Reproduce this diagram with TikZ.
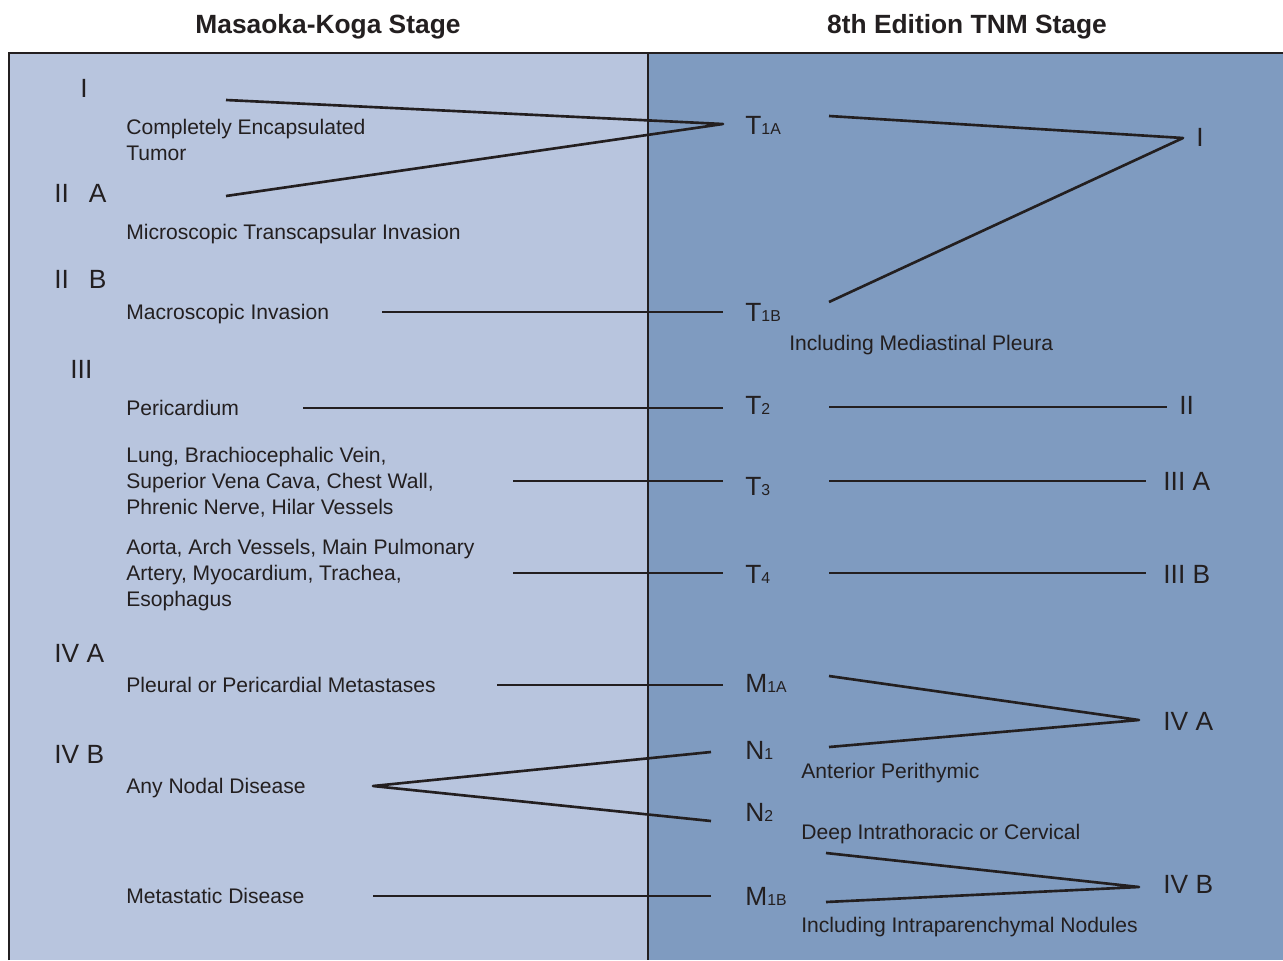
\documentclass[tikz,border=0pt]{standalone}
\usepackage{fontspec}
\setmainfont{Liberation Sans}
\usetikzlibrary{positioning}
\definecolor{PanelLight}{RGB}{184,197,222}
\definecolor{PanelDark}{RGB}{127,155,192}
\definecolor{InkDark}{RGB}{35,31,32}
\newcommand{\stagesub}[1]{\raisebox{-0.4pt}{\fontsize{9}{9}\selectfont #1}}

\begin{document}
\begin{tikzpicture}[x=0.02cm,y=-0.02cm,
        title/.style={font=\fontsize{15}{18}\selectfont\bfseries,text=InkDark,
                      inner sep=0pt,anchor=base},
        stage/.style={font=\fontsize{15}{18}\selectfont,text=InkDark,
                      inner sep=0pt,anchor=base west},
        desc/.style={font=\fontsize{12}{14.74}\selectfont,text=InkDark,
                     inner sep=0pt,anchor=base west,align=left},
        link/.style={draw=InkDark,line width=1.5pt,line join=round},
        frame/.style={draw=InkDark,line width=1pt}
      ]
        \useasboundingbox (0,0) rectangle (1283,960);
        % panels
        \fill[PanelLight] (9,53) rectangle (648,960);
        \fill[PanelDark] (648,53) rectangle (1283,960);
        \draw[frame] (9,960) -- (9,53) -- (1283,53);
        \draw[frame] (648,53) -- (648,960);
        \node[title] (mk-title) at (328,33) {Masaoka-Koga Stage};
        \node[title] (tnm-title) at (967,33) {8th Edition TNM Stage};
        % Masaoka-Koga side (multi-line texts sit on their last baseline)
        \node[stage] (mk-i) at (80,97) {I};
        \node[stage] (mk-iia) at (54,202) {II\hspace{0.4cm}A};
        \node[stage] (mk-iib) at (54,288) {II\hspace{0.4cm}B};
        \node[stage] (mk-iii) at (70,378) {III};
        \node[stage] (mk-iva) at (54,662) {IV A};
        \node[stage] (mk-ivb) at (54,763) {IV B};
        \node[desc] (d-encaps) at (126,160) {Completely Encapsulated\\Tumor};
        \node[desc] (d-micro) at (126,239) {Microscopic Transcapsular Invasion};
        \node[desc] (d-macro) at (126,319) {Macroscopic Invasion};
        \node[desc] (d-peri) at (126,415) {Pericardium};
        \node[desc] (d-lung) at (126,514)
          {Lung, Brachiocephalic Vein,\\Superior Vena Cava, Chest Wall,\\Phrenic Nerve, Hilar Vessels};
        \node[desc] (d-aorta) at (126,606)
          {Aorta, Arch Vessels, Main Pulmonary\\Artery, Myocardium, Trachea,\\Esophagus};
        \node[desc] (d-pleural) at (126,692) {Pleural or Pericardial Metastases};
        \node[desc] (d-nodal) at (126,793) {Any Nodal Disease};
        \node[desc] (d-meta) at (126,903) {Metastatic Disease};
        % TNM side
        \node[stage] (t1a) at (745,134) {T\stagesub{1A}};
        \node[stage] (t1b) at (745,321) {T\stagesub{1B}};
        \node[stage] (t2) at (745,414) {T\stagesub{2}};
        \node[stage] (t3) at (745,495) {T\stagesub{3}};
        \node[stage] (t4) at (745,583) {T\stagesub{4}};
        \node[stage] (m1a) at (745,692) {M\stagesub{1A}};
        \node[stage] (n1) at (745,759) {N\stagesub{1}};
        \node[stage] (n2) at (745,821) {N\stagesub{2}};
        \node[stage] (m1b) at (745,905) {M\stagesub{1B}};
        \node[desc] (d-pleura) at (789,350) {Including Mediastinal Pleura};
        \node[desc] (d-perithy) at (801,778) {Anterior Perithymic};
        \node[desc] (d-deep) at (801,839) {Deep Intrathoracic or Cervical};
        \node[desc] (d-paren) at (801,932) {Including Intraparenchymal Nodules};
        \node[stage] (tnm-i) at (1196,146) {I};
        \node[stage] (tnm-ii) at (1179,414) {II};
        \node[stage] (tnm-iiia) at (1163,490) {III A};
        \node[stage] (tnm-iiib) at (1163,583) {III B};
        \node[stage] (tnm-iva) at (1163,730) {IV A};
        \node[stage] (tnm-ivb) at (1163,893) {IV B};
        % line ends
        \coordinate (c-i) at (226,100);
        \coordinate (c-iia) at (226,196);
        \coordinate (c-macro) at (382,312);
        \coordinate (c-peri) at (303,408);
        \coordinate (c-lung) at (513,481);
        \coordinate (c-aorta) at (513,573);
        \coordinate (c-pleural) at (497,685);
        \coordinate (c-nodal) at (373,786);
        \coordinate (c-meta) at (373,896);
        \coordinate (t1a-in) at (723,124);
        \coordinate (t1b-in) at (723,312);
        \coordinate (t2-in) at (723,408);
        \coordinate (t3-in) at (723,481);
        \coordinate (t4-in) at (723,573);
        \coordinate (m1a-in) at (723,685);
        \coordinate (n1-in) at (711,752);
        \coordinate (n2-in) at (711,821);
        \coordinate (m1b-in) at (711,896);
        \coordinate (t1a-out) at (829,116);
        \coordinate (t1b-out) at (829,302);
        \coordinate (t2-out) at (829,407);
        \coordinate (t3-out) at (829,481);
        \coordinate (t4-out) at (829,573);
        \coordinate (m1a-out) at (829,676);
        \coordinate (n1-out) at (829,747);
        \coordinate (n2-out) at (826,853);
        \coordinate (m1b-out) at (826,902);
        \coordinate (i-in) at (1183,138);
        \coordinate (ii-in) at (1167,407);
        \coordinate (iiia-in) at (1146,481);
        \coordinate (iiib-in) at (1146,573);
        \coordinate (iva-in) at (1139,720);
        \coordinate (ivb-in) at (1139,887);
        % connectors
        \draw[link] (c-i) -- (t1a-in) -- (c-iia);
        \draw[link] (c-macro) -- (t1b-in);
        \draw[link] (c-peri) -- (t2-in);
        \draw[link] (c-lung) -- (t3-in);
        \draw[link] (c-aorta) -- (t4-in);
        \draw[link] (c-pleural) -- (m1a-in);
        \draw[link] (n1-in) -- (c-nodal) -- (n2-in);
        \draw[link] (c-meta) -- (m1b-in);
        \draw[link] (t1a-out) -- (i-in) -- (t1b-out);
        \draw[link] (t2-out) -- (ii-in);
        \draw[link] (t3-out) -- (iiia-in);
        \draw[link] (t4-out) -- (iiib-in);
        \draw[link] (m1a-out) -- (iva-in) -- (n1-out);
        \draw[link] (n2-out) -- (ivb-in) -- (m1b-out);
      \end{tikzpicture}
\end{document}
